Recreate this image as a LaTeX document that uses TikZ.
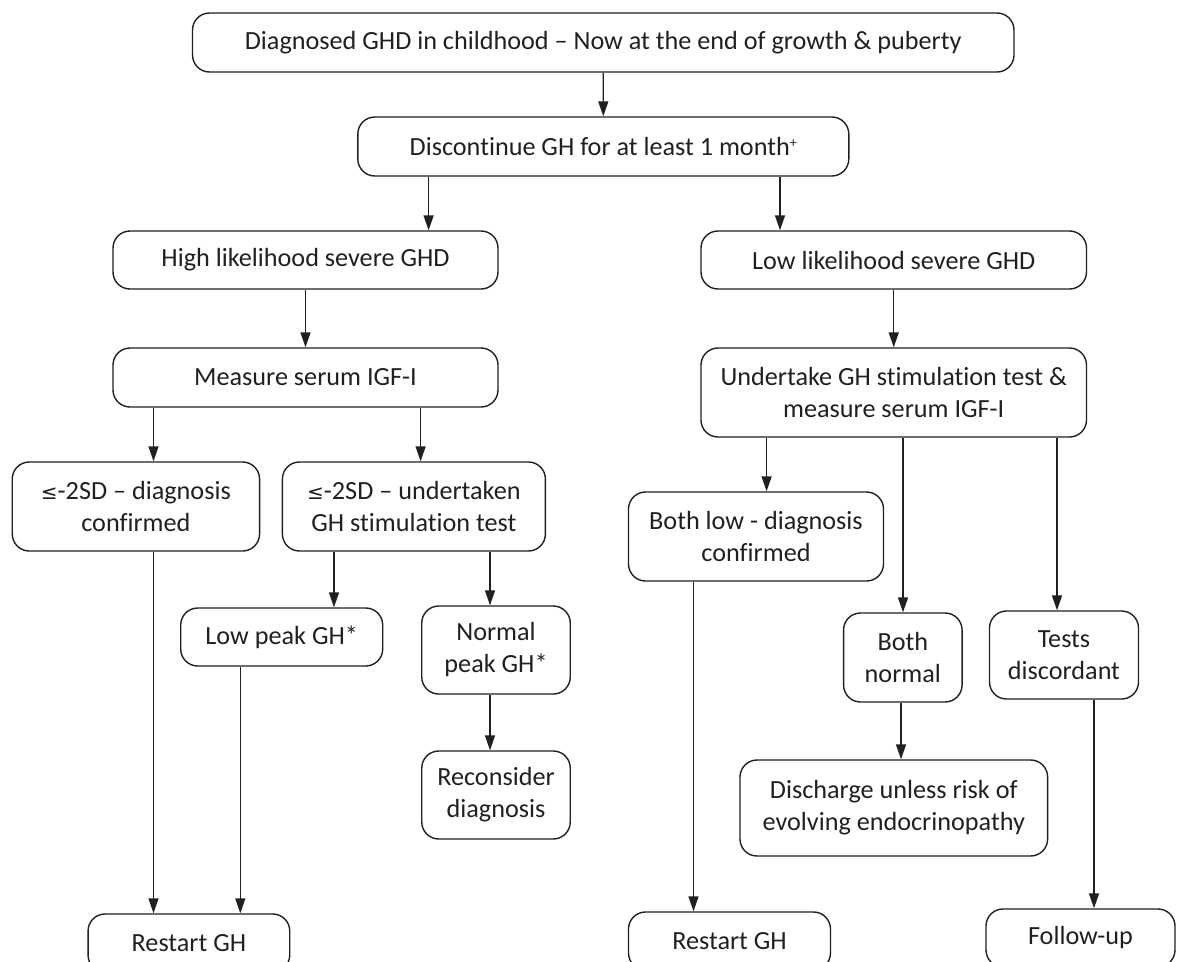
\documentclass[tikz,border=0pt]{standalone}
\usepackage{fontspec}
\setmainfont{Carlito}[Ligatures={NoCommon,NoDiscretionary}]
\newfontfamily\symfont{DejaVu Sans}
\usetikzlibrary{arrows.meta}
\definecolor{ink}{HTML}{231F20}
\newcommand{\leqsym}{{\symfont\fontsize{20}{32}\selectfont ≤}}
\begin{document}
\begin{tikzpicture}[x=1pt,y=-1pt,
  box/.style={draw=ink, line width=1.4pt, rounded corners=17pt, align=center,
    text=ink, inner sep=0pt, font=\fontsize{26.2}{32}\selectfont},
  arr/.style={draw=ink, line width=1.4pt, -{Triangle[length=15pt,width=10pt]}}]
\useasboundingbox (0,0) rectangle (1177,961);
\clip (0,0) rectangle (1177,961);
% boxes
\node[box, minimum width=821.5pt, minimum height=59pt] (top) at (603.25,42.5) {Diagnosed GHD in childhood – Now at the end of growth \& puberty};
\node[box, minimum width=491pt, minimum height=59pt] (disc) at (603.3,146.5) {Discontinue GH for at least 1 month{\fontsize{14}{14}\selectfont\raisebox{8pt}{+}}};
\node[box, minimum width=385pt, minimum height=58pt] (high) at (305.5,260) {High likelihood severe GHD};
\node[box, minimum width=385.5pt, minimum height=58pt] (low) at (893.75,260) {Low likelihood severe GHD};
\node[box, minimum width=385pt, minimum height=59pt] (meas) at (305.5,377.5) {Measure serum IGF-I};
\node[box, minimum width=385.5pt, minimum height=89pt] (under) at (893.75,392.5) {Undertake GH stimulation test \&\\measure serum IGF-I};
\node[box, minimum width=247.3pt, minimum height=89pt] (diag) at (135.9,506.5) {\leqsym-2SD – diagnosis\\confirmed};
\node[box, minimum width=263pt, minimum height=89pt] (undt) at (413.9,506.5) {\leqsym-2SD – undertaken\\GH stimulation test};
\node[box, minimum width=202pt, minimum height=58pt] (lowpk) at (281.7,637) {Low peak GH*};
\node[box, minimum width=148.5pt, minimum height=88pt] (normpk) at (496,650) {Normal\\peak GH*};
\node[box, minimum width=148.5pt, minimum height=88pt] (recon) at (496,795) {Reconsider\\diagnosis};
\node[box, minimum width=201.7pt, minimum height=58pt] (restL) at (188.9,943) {Restart GH};
\node[box, minimum width=255pt, minimum height=89pt] (bothlow) at (756,536.5) {Both low - diagnosis\\confirmed};
\node[box, minimum width=118.5pt, minimum height=89pt] (bothnorm) at (902.8,657.5) {Both\\normal};
\node[box, minimum width=149pt, minimum height=88pt] (tests) at (1064,655) {Tests\\discordant};
\node[box, minimum width=307.6pt, minimum height=96pt] (disch) at (893.8,808) {Discharge unless risk of\\evolving endocrinopathy};
\node[box, minimum width=202pt, minimum height=58pt] (restR) at (729.5,941) {Restart GH};
\node[box, minimum width=189pt, minimum height=58pt] (follow) at (1080.5,938) {Follow-up};
% connector x positions
\coordinate (xa) at (428.6,0);
\coordinate (xb) at (780,0);
\coordinate (xc) at (153.5,0);
\coordinate (xd) at (420.6,0);
\coordinate (xe) at (334,0);
\coordinate (xf) at (490,0);
\coordinate (xg) at (240.3,0);
\coordinate (xh) at (766.6,0);
\coordinate (xi) at (903,0);
\coordinate (xj) at (1057,0);
\coordinate (xk) at (901,0);
\coordinate (xl) at (693.5,0);
\coordinate (xm) at (1094,0);
% connectors
\draw[arr] (top.south) -- (disc.north);
\draw[arr] (disc.south -| xa) -- (high.north -| xa);
\draw[arr] (disc.south -| xb) -- (low.north -| xb);
\draw[arr] (high.south) -- (meas.north);
\draw[arr] (low.south) -- (under.north);
\draw[arr] (meas.south -| xc) -- (diag.north -| xc);
\draw[arr] (meas.south -| xd) -- (undt.north -| xd);
\draw[arr] (undt.south -| xe) -- (lowpk.north -| xe);
\draw[arr] (undt.south -| xf) -- (normpk.north -| xf);
\draw[arr] (normpk.south -| xf) -- (recon.north -| xf);
\draw[arr] (diag.south -| xc) -- (restL.north -| xc);
\draw[arr] (lowpk.south -| xg) -- (restL.north -| xg);
\draw[arr] (under.south -| xh) -- (bothlow.north -| xh);
\draw[arr] (under.south -| xi) -- (bothnorm.north -| xi);
\draw[arr] (under.south -| xj) -- (tests.north -| xj);
\draw[arr] (bothnorm.south -| xk) -- (disch.north -| xk);
\draw[arr] (bothlow.south -| xl) -- (restR.north -| xl);
\draw[arr] (tests.south -| xm) -- (follow.north -| xm);
\end{tikzpicture}
\end{document}
